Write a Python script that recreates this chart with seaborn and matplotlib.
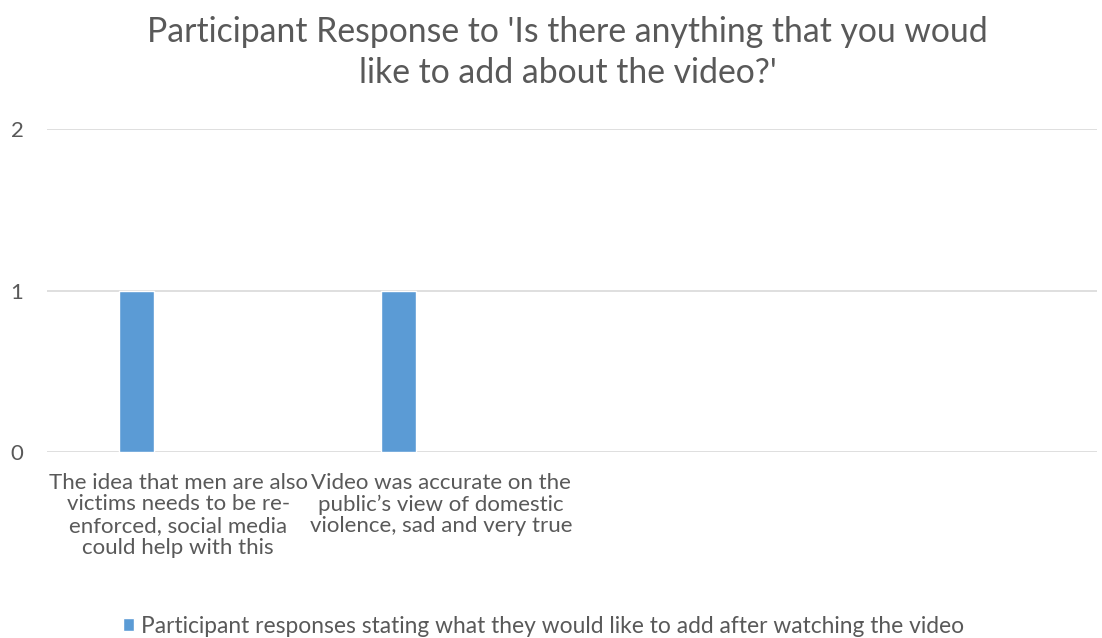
import matplotlib
matplotlib.use("Agg")
import matplotlib.pyplot as plt
import seaborn as sns
import pandas as pd

# Response categories and counts
categories = [
    "The idea that men are also\nvictims needs to be re-\nenforced, social media\ncould help with this",
    "Video was accurate on the\npublic\u2019s view of domestic\nviolence, sad and very true",
]
counts = [1, 1]
series_name = "Participant responses stating what they would like to add after watching the video"
title = "Participant Response to 'Is there anything that you woud\nlike to add about the video?'"
y_ticks = [0, 1, 2]

sns.set_theme(style="white")
plt.rcParams["font.family"] = ["Lato", "DejaVu Sans"]

text_color = "#595959"
bar_color = "#5B9BD5"
grid_color = "#D9D9D9"

fig = plt.figure(figsize=(11.02, 6.38), dpi=100)
ax = fig.add_axes([0.0427, 0.2915, 0.9528, 0.5063])

df = pd.DataFrame({"category": categories, "count": counts})
sns.barplot(data=df, x="category", y="count", color=bar_color, width=0.133,
            saturation=1, ax=ax)

# shift bars left within their category slot (first position of a cluster)
for p in ax.patches:
    p.set_x(p.get_x() - 0.16)

ax.set_xlim(-0.5, 3.5)
ax.set_ylim(0, 2)
ax.set_yticks(y_ticks)
ax.set_xlabel("")
ax.set_ylabel("")
for s in ax.spines.values():
    s.set_visible(False)
ax.yaxis.grid(True, color=grid_color, linewidth=1.2)
ax.set_axisbelow(True)
ax.tick_params(axis="y", length=0, pad=17, labelsize=16, labelcolor=text_color)
ax.tick_params(axis="x", length=0, pad=15, labelsize=16, labelcolor=text_color)
for lbl in ax.get_xticklabels():
    lbl.set_linespacing(1.1)
    lbl.set_ha("center")

fig.suptitle(title, x=0.515, y=0.975, fontsize=24.3, color=text_color, linespacing=1.33)

leg = fig.legend(handles=ax.patches[:1], labels=[series_name], loc="lower center",
                 bbox_to_anchor=(0.493, -0.03), frameon=False, fontsize=16.4,
                 handlelength=0.5, handleheight=0.5, handletextpad=0.3)
for t in leg.get_texts():
    t.set_color(text_color)

fig.savefig("out.png", dpi=100)
